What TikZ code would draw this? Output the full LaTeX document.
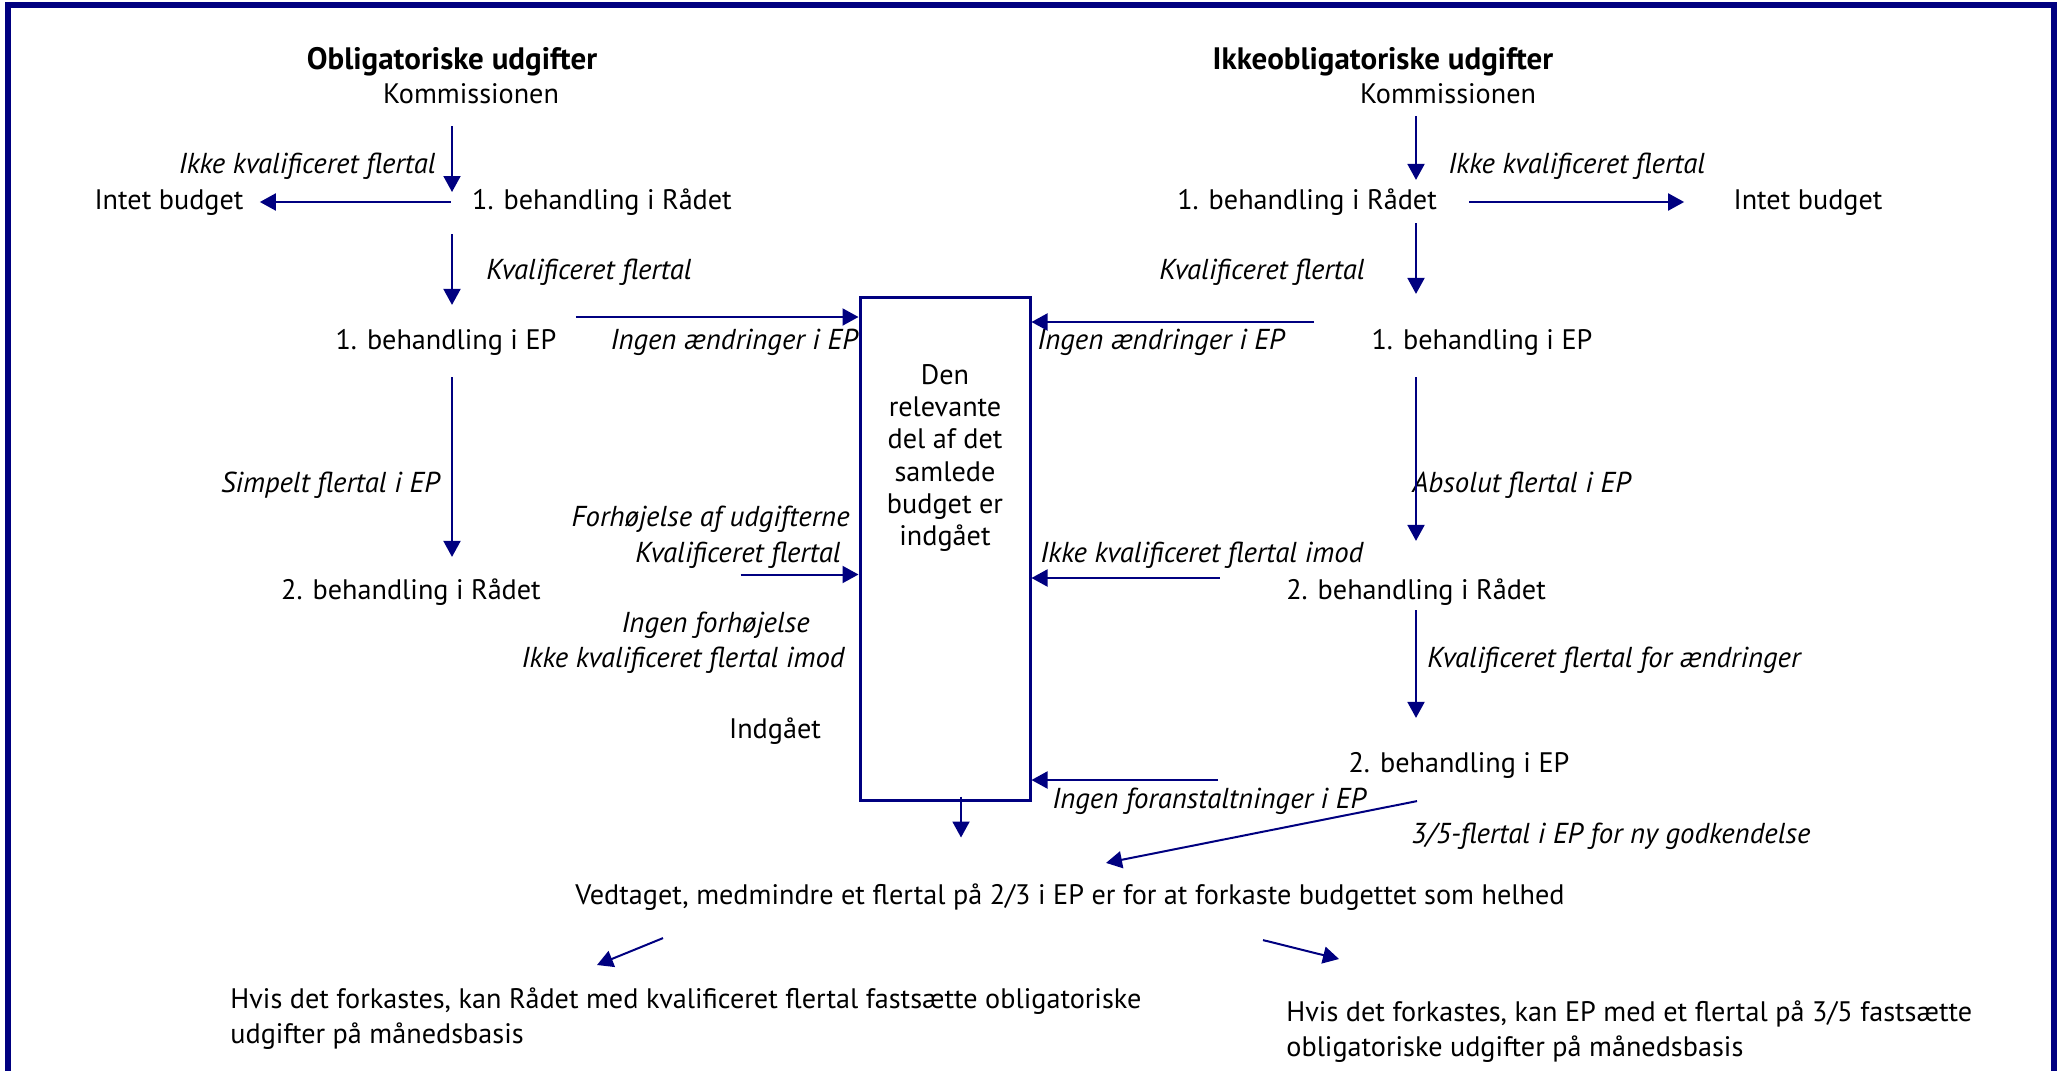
\documentclass[tikz,border=0pt]{standalone}
\usepackage{fontspec}
\setmainfont{PT Sans}
\usepackage{xcolor}
\usetikzlibrary{arrows.meta,positioning}
\definecolor{navyblue}{RGB}{0,0,128}

\begin{document}
\fontsize{14.1pt}{17.5pt}\selectfont
\begin{tikzpicture}[
    x=0.5pt, y=-0.5pt,
    txt/.style={inner sep=0pt, text height=.7em, text depth=.2em},
    lbl/.style={txt, font=\fontsize{14.4pt}{17.5pt}\selectfont\itshape},
    head/.style={txt, font=\fontsize{15.5pt}{17.5pt}\selectfont\bfseries},
    para/.style={inner sep=0pt, align=left, font=\fontsize{14.1pt}{17.5pt}\selectfont},
    box/.style={draw=navyblue, line width=1.5pt, minimum width=85pt, minimum height=251.5pt},
    line/.style={-{Triangle[length=8pt,width=8.5pt]}, line width=1pt, navyblue},
    frame/.style={draw=navyblue, line width=2.75pt}
]
\useasboundingbox (0,0) rectangle (2059,1070);
\clip (0,0) rectangle (2059,1070);
\draw[frame] (8,5) rectangle (2054,1100);

% obligatoriske udgifter
\node[head] (oblig) at (452,62) {Obligatoriske udgifter};
\node[txt] (komL) at (471,96) {Kommissionen};
\node[txt] (radL1) at (602,202) {1. behandling i Rådet};
\node[txt] (intetL) at (169,202) {Intet budget};
\node[txt] (epL1) at (446,342) {1. behandling i EP};
\node[txt] (radL2) at (411,592) {2. behandling i Rådet};
\node[txt] (indg) at (775,731) {Indgået};

\node[lbl, anchor=east] (l1) at (436,166) {Ikke kvalificeret flertal};
\node[lbl, anchor=west] (l2) at (486,272) {Kvalificeret flertal};
\node[lbl, anchor=east] (l3) at (858,342) {Ingen ændringer i EP};
\node[lbl, anchor=east] (l4) at (440,485) {Simpelt flertal i EP};
\node[lbl, anchor=east] (l5) at (850,519) {Forhøjelse af udgifterne};
\node[lbl, anchor=east] (l6) at (841,555) {Kvalificeret flertal};
\node[lbl, anchor=east] (l7) at (810,625) {Ingen forhøjelse};
\node[lbl, anchor=east] (l8) at (845,660) {Ikke kvalificeret flertal imod};

% budget box
\node[box] (budget) at (945,548.5) {};
\node[inner sep=0pt, align=center, font=\fontsize{14.1pt}{16pt}\selectfont] (budgettxt) at (945,458)
    {Den\\relevante\\del af det\\samlede\\budget er\\indgået};

% ikkeobligatoriske udgifter
\node[head] (ikke) at (1383,62) {Ikkeobligatoriske udgifter};
\node[txt] (komR) at (1448,96) {Kommissionen};
\node[txt] (radR1) at (1307,202) {1. behandling i Rådet};
\node[txt] (intetR) at (1808,202) {Intet budget};
\node[txt] (epR1) at (1482,342) {1. behandling i EP};
\node[txt] (radR2) at (1416,592) {2. behandling i Rådet};
\node[txt] (epR2) at (1459,765) {2. behandling i EP};

\node[lbl, anchor=west] (r1) at (1448,166) {Ikke kvalificeret flertal};
\node[lbl, anchor=west] (r2) at (1159,272) {Kvalificeret flertal};
\node[lbl, anchor=west] (r3) at (1037,342) {Ingen ændringer i EP};
\node[lbl, anchor=west] (r4) at (1412,485) {Absolut flertal i EP};
\node[lbl, anchor=west] (r5) at (1040,555) {Ikke kvalificeret flertal imod};
\node[lbl, anchor=west] (r6) at (1427,660) {Kvalificeret flertal for ændringer};
\node[lbl, anchor=west] (r7) at (1052,801) {Ingen foranstaltninger i EP};
\node[lbl, anchor=west] (r8) at (1411,836) {3/5-flertal i EP for ny godkendelse};

% result
\node[txt] (vedt) at (1070,897) {Vedtaget, medmindre et flertal på 2/3 i EP er for at forkaste budgettet som helhed};
\node[para, anchor=north west] (hvisL) at (230,987)
    {Hvis det forkastes, kan Rådet med kvalificeret flertal fastsætte obligatoriske\\udgifter på månedsbasis};
\node[para, anchor=north west] (hvisR) at (1286,1000)
    {Hvis det forkastes, kan EP med et flertal på 3/5 fastsætte\\obligatoriske udgifter på månedsbasis};

% left arrows
\draw[line, shorten <=8.5pt, shorten >=5pt] (komL.south -| oblig) -- (radL1.west -| oblig);
\draw[line, shorten <=10.5pt, shorten >=8pt] (radL1.west) -- (intetL.east);
\draw[line, shorten <=9.5pt, shorten >=12pt] (radL1.south -| oblig) -- (epL1.north -| oblig);
\draw[line, shorten <=9.5pt] ([yshift=12.5pt]epL1.east) -- ([yshift=12.5pt]epL1.east -| budget.west);
\draw[line, shorten <=11pt, shorten >=11pt] (epL1.south -| oblig) -- (radL2.north -| oblig);
\draw[line] ([xshift=-59pt,yshift=-13pt]budget.west) -- ([yshift=-13pt]budget.west);
\draw[line] ([xshift=8pt,yshift=2.5pt]budget.south) -- ([xshift=8pt,yshift=-18pt]budget.south);

% right arrows
\draw[line, shorten <=3.5pt, shorten >=4.5pt] (komR.south -| radR2) -- (radR1.north -| radR2);
\draw[line, shorten <=16pt, shorten >=24.5pt] (radR1.east) -- (intetR.west);
\draw[line, shorten <=4pt, shorten >=17.5pt] (radR1.south -| radR2) -- (epR1.north -| radR2);
\draw[line, shorten <=28.5pt] ([yshift=10pt]epR1.west) -- ([yshift=10pt]epR1.west -| budget.east);
\draw[line, shorten <=11pt, shorten >=19pt] (epR1.south -| radR2) -- (radR2.north);
\draw[line, shorten <=33pt] ([yshift=7pt]radR2.west) -- ([yshift=7pt]radR2.west -| budget.east);
\draw[line, shorten <=2.5pt, shorten >=17pt] (radR2.south) -- (epR2.north -| radR2);
\draw[line, shorten <=65pt] ([yshift=-7.5pt]epR2.west) -- ([yshift=-7.5pt]epR2.west -| budget.east);
\draw[line] ([xshift=-21pt,yshift=-11.5pt]epR2.south) -- ([xshift=18pt,yshift=10.5pt]vedt.north);

% bottom arrows
\draw[line] ([xshift=-203.5pt,yshift=-14pt]vedt.south) -- ([xshift=183.5pt,yshift=11pt]hvisL.north west);
\draw[line] ([xshift=96.5pt,yshift=-15pt]vedt.south) -- ([xshift=26.5pt,yshift=20.5pt]hvisR.north west);
\end{tikzpicture}
\end{document}
